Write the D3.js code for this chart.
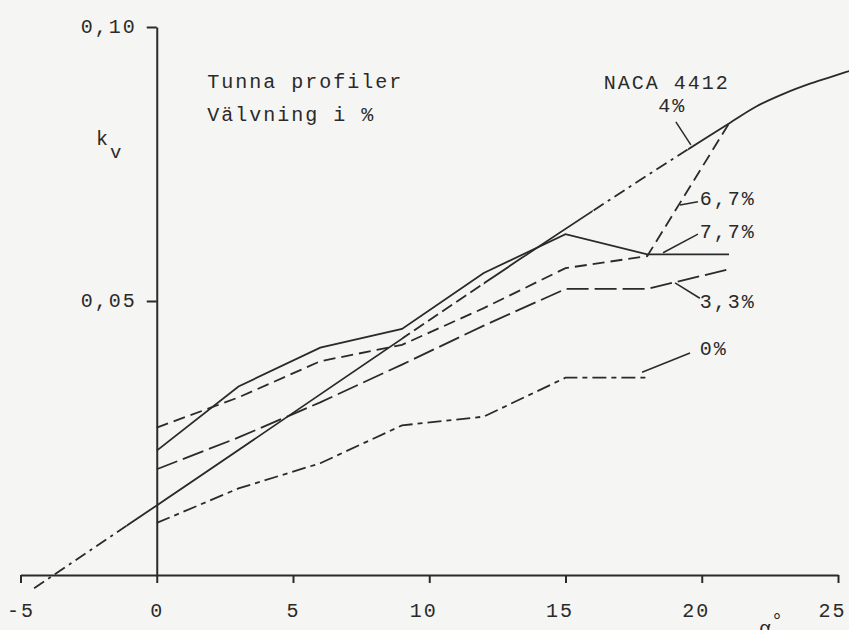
<!DOCTYPE html>
<html>
<head>
<meta charset="utf-8">
<script src="https://cdn.jsdelivr.net/npm/d3@7"></script>
<style>
body { margin: 0; background: #f5f5f3; }
svg { display: block; }
text { font-family: "Liberation Mono", monospace; font-size: 20px; fill: #2a2a2a; letter-spacing: 2px; }
</style>
</head>
<body>
<svg id="kv-chart" width="849" height="630"></svg>
<script>
// Vinkel (alfa, grader) och k_v for tunna profiler
const alpha = [0, 3, 6, 9, 12, 15, 18, 21];
const kv0  = [0.0095, 0.0158, 0.0204, 0.0273, 0.0289, 0.0360, 0.0360];   // 0 %, slutar vid 18
const kv33 = [0.0193, 0.0251, 0.0315, 0.0384, 0.0455, 0.0522, 0.0522, 0.0558];
const kv67 = [0.0269, 0.0324, 0.0390, 0.0420, 0.0487, 0.0560, 0.0582, 0.0824];
const kv77 = [0.0227, 0.0344, 0.0415, 0.0449, 0.0551, 0.0622, 0.0585, 0.0585];

// NACA 4412 (4 %)
const nacaAlpha = [-4.5, 0, 21, 22, 23, 24, 25, 25.5];
const nacaKv    = [-0.0024, 0.0127, 0.0824, 0.0855, 0.0878, 0.0897, 0.0913, 0.0921];

const xTicks = [-5, 0, 5, 10, 15, 20, 25];
const yTicks = [0.05, 0.10];

// etiketter: [text, alfa, k]
const seriesLabels = [["6,7%", 19.93, 0.0675], ["7,7%", 19.93, 0.0615], ["3,3%", 19.93, 0.0487], ["0%", 19.93, 0.0401], ["4%", 18.4, 0.0845], ["NACA 4412", 16.4, 0.0887]];
// ledlinjer: [alfa1, k1, alfa2, k2]
const leaders = [[19.05, 0.0827, 19.60, 0.0785], [19.20, 0.0675, 19.86, 0.0681], [18.58, 0.0588, 19.86, 0.0622], [19.02, 0.0533, 19.93, 0.0505], [17.81, 0.0370, 19.57, 0.0405]];

const svg = d3.select("#kv-chart");
const ink = "#2a2a2a";

let x = d3.scaleLinear().domain([-5, 25]).range([20.5, 838]);
let y = d3.scaleLinear().domain([0, 0.1]).range([575, 27]);

const comma = d3.formatLocale({decimal: ",", thousands: " ", grouping: [3], currency: ["", ""]}).format(".2f");

// axlar
let gx = svg.append("g").attr("transform", "translate(0," + y(0) + ")")
  .call(d3.axisBottom(x).tickValues(xTicks).tickSize(8).tickSizeOuter(0).tickPadding(20).tickFormat(d => String(d)));
gx.selectAll("text").attr("dx", d => d >= 10 ? -6 : 0);

let gy = svg.append("g").attr("transform", "translate(" + x(0) + ",0)")
  .call(d3.axisLeft(y).tickValues(yTicks).tickSize(10).tickSizeOuter(0).tickPadding(10).tickFormat(comma));
gy.selectAll("text").attr("dy", "0.25em");

svg.selectAll(".domain, .tick line").attr("stroke", ink).attr("stroke-width", 2);
svg.selectAll(".tick text").attr("fill", ink).style("font-size", "20px").style("font-family", "Liberation Mono, monospace");

// kurvor
let line = d3.line().x(d => x(d[0])).y(d => y(d[1]));
const series = [
  {kv: kv0, dash: "14,5,5,5"},
  {kv: kv33, dash: "22,6"},
  {kv: kv67, dash: "12,6"},
  {kv: kv77, dash: null}
];
svg.append("g").selectAll("path").data(series)
  .join("path")
  .attr("d", s => line(s.kv.map((k, i) => [alpha[i], k])))
  .attr("fill", "none")
  .attr("stroke", ink)
  .attr("stroke-width", 1.8)
  .attr("stroke-dasharray", s => s.dash);

// NACA-kurvan ritas med olika streckmonster i olika intervall
const nacaParts = [
  {from: -5, to: -1.1, dash: "12,5,3,5"},
  {from: -1.1, to: 9, dash: null},
  {from: 9, to: 12, dash: "12,5"},
  {from: 12, to: 16, dash: null},
  {from: 16, to: 19.5, dash: "12,5,3,5"},
  {from: 19.5, to: 26, dash: null}
];
let defs = svg.append("defs");
defs.selectAll("clipPath").data(nacaParts).join("clipPath")
  .attr("id", (d, i) => "naca-clip-" + i)
  .append("rect")
  .attr("x", d => x(d.from)).attr("width", d => x(d.to) - x(d.from))
  .attr("y", 0).attr("height", 630);

let nacaLine = d3.line().curve(d3.curveMonotoneX).x(d => x(d[0])).y(d => y(d[1]));
const nacaPts = nacaAlpha.map((a, i) => [a, nacaKv[i]]);
svg.append("g").selectAll("path").data(nacaParts)
  .join("path")
  .attr("clip-path", (d, i) => "url(#naca-clip-" + i + ")")
  .attr("d", nacaLine(nacaPts))
  .attr("fill", "none")
  .attr("stroke", ink)
  .attr("stroke-width", 1.8)
  .attr("stroke-dasharray", d => d.dash);

// ledlinjer och etiketter
svg.append("g").selectAll("line").data(leaders)
  .join("line")
  .attr("x1", d => x(d[0])).attr("y1", d => y(d[1]))
  .attr("x2", d => x(d[2])).attr("y2", d => y(d[3]))
  .attr("stroke", ink).attr("stroke-width", 1.5);

svg.append("g").selectAll("text").data(seriesLabels)
  .join("text")
  .attr("x", d => x(d[1])).attr("y", d => y(d[2]))
  .text(d => d[0]);

svg.append("text").attr("x", x(1.85)).attr("y", y(0.0889)).text("Tunna profiler");
svg.append("text").attr("x", x(1.85)).attr("y", y(0.0829)).text("Välvning i %");

// k med nedsänkt v
svg.append("text").attr("x", 96).attr("y", 145).text("k");
svg.append("text").attr("x", 110).attr("y", 158).style("font-size", "19px").text("v");

let al = svg.append("text").attr("x", x(22.1)).attr("y", 635);
al.append("tspan").text("α");
al.append("tspan").attr("dy", -8).attr("dx", -2).text("°");
</script>
</body>
</html>
